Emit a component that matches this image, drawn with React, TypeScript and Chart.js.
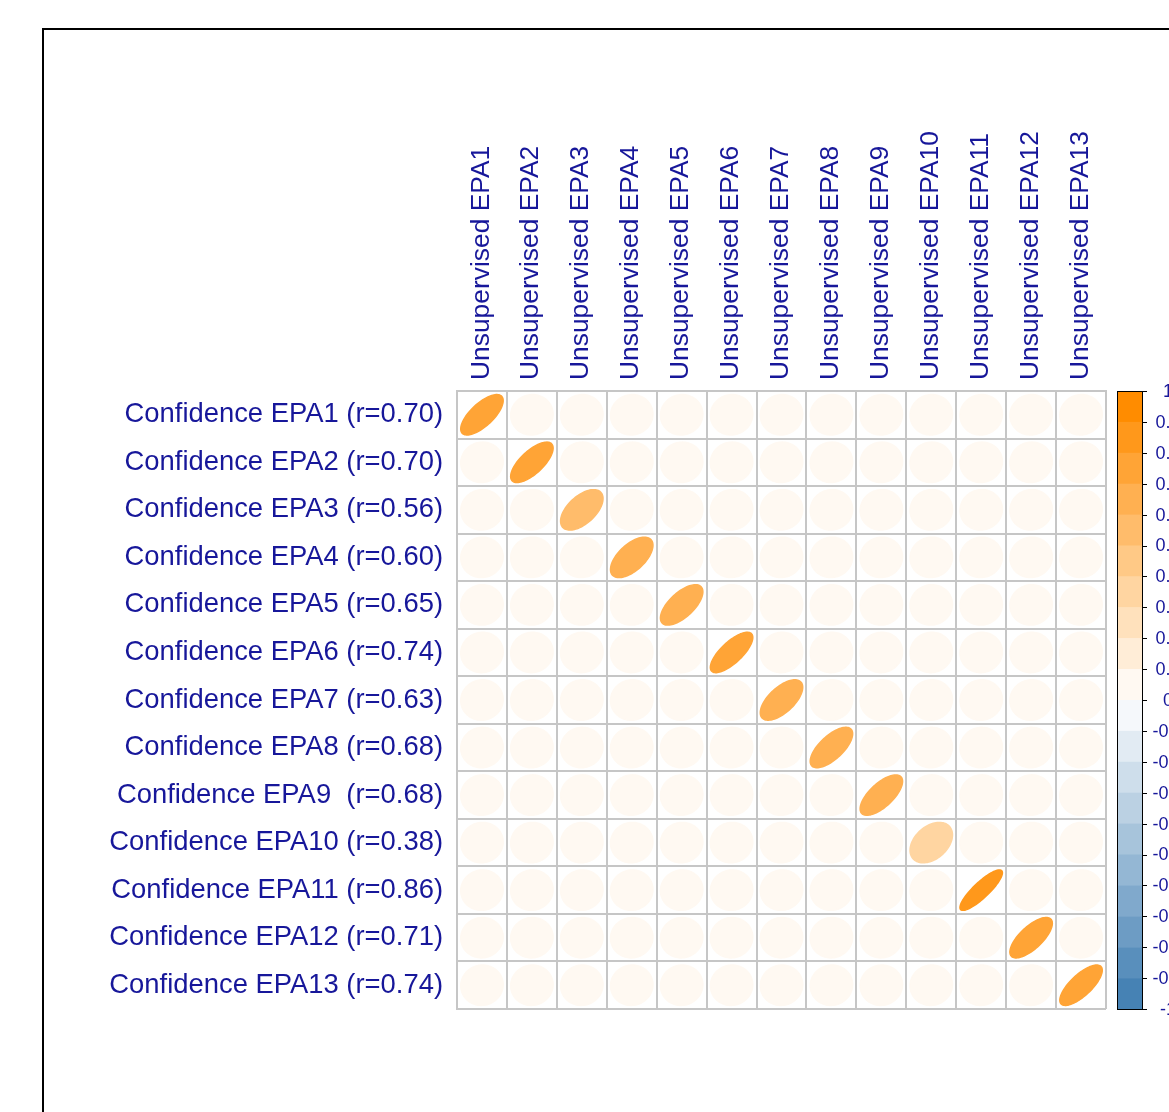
import React, { useEffect, useRef } from 'react';
import { Chart, registerables } from 'chart.js';

Chart.register(...registerables);

// ---------- data ----------
const colLabels = [
  'Unsupervised EPA1', 'Unsupervised EPA2', 'Unsupervised EPA3', 'Unsupervised EPA4',
  'Unsupervised EPA5', 'Unsupervised EPA6', 'Unsupervised EPA7', 'Unsupervised EPA8',
  'Unsupervised EPA9', 'Unsupervised EPA10', 'Unsupervised EPA11', 'Unsupervised EPA12',
  'Unsupervised EPA13',
];

const rowLabels = [
  'Confidence EPA1 (r=0.70)', 'Confidence EPA2 (r=0.70)', 'Confidence EPA3 (r=0.56)',
  'Confidence EPA4 (r=0.60)', 'Confidence EPA5 (r=0.65)', 'Confidence EPA6 (r=0.74)',
  'Confidence EPA7 (r=0.63)', 'Confidence EPA8 (r=0.68)', 'Confidence EPA9  (r=0.68)',
  'Confidence EPA10 (r=0.38)', 'Confidence EPA11 (r=0.86)', 'Confidence EPA12 (r=0.71)',
  'Confidence EPA13 (r=0.74)',
];

// correlation matrix (rows = Confidence, cols = Unsupervised)
const corrMatrix = [
  [0.70, 0.03, 0.03, 0.03, 0.03, 0.03, 0.03, 0.03, 0.03, 0.03, 0.03, 0.03, 0.03],
  [0.03, 0.70, 0.03, 0.03, 0.03, 0.03, 0.03, 0.03, 0.03, 0.03, 0.03, 0.03, 0.03],
  [0.03, 0.03, 0.56, 0.03, 0.03, 0.03, 0.03, 0.03, 0.03, 0.03, 0.03, 0.03, 0.03],
  [0.03, 0.03, 0.03, 0.60, 0.03, 0.03, 0.03, 0.03, 0.03, 0.03, 0.03, 0.03, 0.03],
  [0.03, 0.03, 0.03, 0.03, 0.65, 0.03, 0.03, 0.03, 0.03, 0.03, 0.03, 0.03, 0.03],
  [0.03, 0.03, 0.03, 0.03, 0.03, 0.74, 0.03, 0.03, 0.03, 0.03, 0.03, 0.03, 0.03],
  [0.03, 0.03, 0.03, 0.03, 0.03, 0.03, 0.63, 0.03, 0.03, 0.03, 0.03, 0.03, 0.03],
  [0.03, 0.03, 0.03, 0.03, 0.03, 0.03, 0.03, 0.68, 0.03, 0.03, 0.03, 0.03, 0.03],
  [0.03, 0.03, 0.03, 0.03, 0.03, 0.03, 0.03, 0.03, 0.68, 0.03, 0.03, 0.03, 0.03],
  [0.03, 0.03, 0.03, 0.03, 0.03, 0.03, 0.03, 0.03, 0.03, 0.38, 0.03, 0.03, 0.03],
  [0.03, 0.03, 0.03, 0.03, 0.03, 0.03, 0.03, 0.03, 0.03, 0.03, 0.86, 0.03, 0.03],
  [0.03, 0.03, 0.03, 0.03, 0.03, 0.03, 0.03, 0.03, 0.03, 0.03, 0.03, 0.71, 0.03],
  [0.03, 0.03, 0.03, 0.03, 0.03, 0.03, 0.03, 0.03, 0.03, 0.03, 0.03, 0.03, 0.74],
];

const legendTicks = [
  '1', '0.9', '0.8', '0.7', '0.6', '0.5', '0.4', '0.3', '0.2', '0.1', '0',
  '-0.1', '-0.2', '-0.3', '-0.4', '-0.5', '-0.6', '-0.7', '-0.8', '-0.9', '-1',
];

const paletteAnchors = [
  [70, 130, 180],   // steelblue
  [255, 255, 255],  // white
  [255, 140, 0],    // darkorange
];
const nBins = 20;

// ---------- helpers ----------
function paletteColor(i: number): string {
  const t = i / (nBins - 1);
  let a, b, f;
  if (t <= 0.5) { a = paletteAnchors[0]; b = paletteAnchors[1]; f = t / 0.5; }
  else { a = paletteAnchors[1]; b = paletteAnchors[2]; f = (t - 0.5) / 0.5; }
  const c = a.map((v, k) => Math.round(v + (b[k] - v) * f));
  return `rgb(${c[0]},${c[1]},${c[2]})`;
}
function colorFor(r: number): string {
  let idx = Math.floor((r + 1) * nBins / 2 + 1e-9);
  if (idx > nBins - 1) idx = nBins - 1;
  if (idx < 0) idx = 0;
  return paletteColor(idx);
}

const FONT = "'Liberation Sans', Arial, sans-serif";
const LABEL_COLOR = '#17179a';

const ellipsePlugin = {
  id: 'corrEllipses',
  afterDatasetsDraw(chart: any) {
    const ctx = chart.ctx;
    const xs = chart.scales.x;
    const ys = chart.scales.y;
    const pts = chart.data.datasets[0].data as any[];
    ctx.save();
    for (const p of pts) {
      const a = Math.acos(Math.max(-1, Math.min(1, p.r)));
      ctx.beginPath();
      const n = 100;
      for (let i = 0; i < n; i++) {
        const k = (2 * Math.PI * i) / (n - 1);
        const ex = (0.85 * Math.cos(k + a / 2)) / 2;
        const ey = (0.85 * Math.cos(k - a / 2)) / 2;
        const px = xs.getPixelForValue(p.x + ex);
        const py = ys.getPixelForValue(p.y - ey);
        if (i === 0) ctx.moveTo(px, py); else ctx.lineTo(px, py);
      }
      ctx.closePath();
      const col = colorFor(p.r);
      ctx.fillStyle = col;
      ctx.fill();
      ctx.strokeStyle = col;
      ctx.lineWidth = 1.5;
      ctx.stroke();
    }
    ctx.restore();
  },
};

const decorPlugin = {
  id: 'decor',
  afterDraw(chart: any) {
    const ctx = chart.ctx;
    const area = chart.chartArea;
    ctx.save();
    // outer frame
    ctx.strokeStyle = '#000';
    ctx.lineWidth = 2;
    ctx.beginPath();
    ctx.moveTo(43, chart.height + 2);
    ctx.lineTo(43, 29);
    ctx.lineTo(chart.width + 2, 29);
    ctx.stroke();

    // colour legend
    const left = area.right + 11;
    const right = left + 25;
    const top = area.top;
    const bottom = area.bottom;
    const h = (bottom - top) / nBins;
    for (let i = 0; i < nBins; i++) {
      ctx.fillStyle = paletteColor(nBins - 1 - i);
      ctx.fillRect(left, top + i * h, right - left, h + 0.5);
    }
    ctx.strokeStyle = '#000';
    ctx.lineWidth = 1;
    ctx.strokeRect(left + 0.5, top + 0.5, right - left, bottom - top);
    ctx.fillStyle = LABEL_COLOR;
    ctx.font = `18px ${FONT}`;
    ctx.textAlign = 'center';
    ctx.textBaseline = 'middle';
    for (let i = 0; i < legendTicks.length; i++) {
      const y = top + (i * (bottom - top)) / (legendTicks.length - 1);
      ctx.beginPath();
      ctx.moveTo(right, Math.round(y) + 0.5);
      ctx.lineTo(right + 5, Math.round(y) + 0.5);
      ctx.stroke();
      ctx.fillText(legendTicks[i], right + 26, y + 1);
    }
    ctx.restore();
  },
};

export default function App() {
  const ref = useRef<HTMLCanvasElement | null>(null);

  useEffect(() => {
    if (!ref.current) return;
    const cells: { x: number; y: number; r: number }[] = [];
    corrMatrix.forEach((row, ri) => {
      row.forEach((r, ci) => cells.push({ x: ci, y: ri, r }));
    });

    const chart = new Chart(ref.current, {
      type: 'scatter',
      data: {
        datasets: [
          {
            data: cells as any,
            pointRadius: 0,
            pointHoverRadius: 0,
            showLine: false,
          },
        ],
      },
      options: {
        animation: false,
        responsive: false,
        maintainAspectRatio: false,
        events: [],
        layout: { padding: { left: 0, top: 0, right: 63, bottom: 103 } },
        plugins: {
          legend: { display: false },
          tooltip: { enabled: false },
          title: { display: false },
        },
        scales: {
          x: {
            type: 'category',
            labels: colLabels,
            position: 'top',
            offset: true,
            grid: { offset: true, color: '#c6c6c6', lineWidth: 2, drawTicks: false },
            border: { display: true, color: '#c6c6c6', width: 2 },
            ticks: {
              autoSkip: false,
              minRotation: 90,
              maxRotation: 90,
              padding: 11,
              labelOffset: 31,
              color: LABEL_COLOR,
              font: { family: FONT, size: 26.4 },
            },
            afterFit(scale: any) { scale.height = 391; },
          },
          y: {
            type: 'category',
            labels: rowLabels,
            position: 'left',
            offset: true,
            grid: { offset: true, color: '#c6c6c6', lineWidth: 2, drawTicks: false },
            border: { display: true, color: '#c6c6c6', width: 2 },
            ticks: {
              autoSkip: false,
              padding: 14,
              color: LABEL_COLOR,
              font: { family: FONT, size: 27.4 },
            },
            afterFit(scale: any) { scale.width = 457; },
          },
        },
      } as any,
      plugins: [ellipsePlugin, decorPlugin],
    });
    return () => chart.destroy();
  }, []);

  return (
    <div style={{ position: 'fixed', left: 0, top: 0, width: 1169, height: 1112, background: '#fff' }}>
      <canvas ref={ref} width={1169} height={1112} style={{ width: 1169, height: 1112, display: 'block' }} />
    </div>
  );
}
